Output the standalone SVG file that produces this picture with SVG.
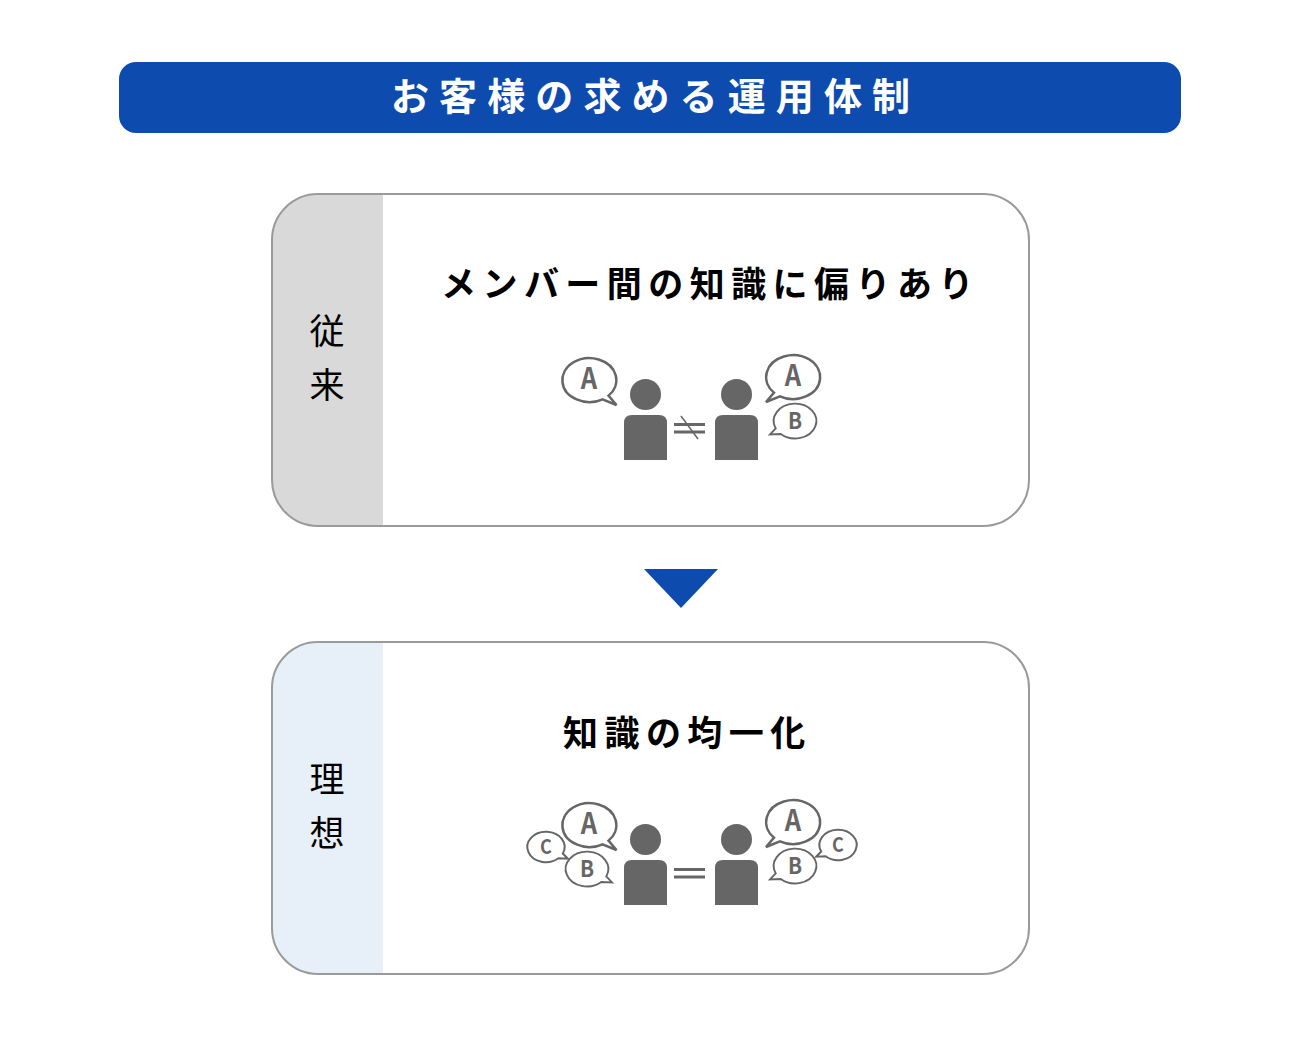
<svg xmlns="http://www.w3.org/2000/svg" width="1300" height="1037" viewBox="0 0 1300 1037">
<style>
text{font-family:"Noto Sans CJK JP","Noto Sans",sans-serif}
.hd{font-size:38px;font-weight:700;fill:#fff;letter-spacing:10.1px}
.tt{font-size:35px;font-weight:700;fill:#000;letter-spacing:6.45px}
.sd{font-size:35px;font-weight:400;fill:#000;text-anchor:middle}
.card{fill:none;stroke:#9a9a9a;stroke-width:2}
.ic{fill:#666}
.bb{fill:#fff;stroke:#666;stroke-linejoin:miter}
.bl{fill:#666;text-anchor:middle;font-weight:700}
</style>
<defs>
<path id="bp" d="M13 19.3A27 22 0 1 1 19 15.6L27 25Z"/>
<path id="bs" d="M18 16.400A27 22 0 1 1 24.400 9.400L31.600 17Z"/>
<path id="body" d="M0 45V8Q0 0 8 0H35Q43 0 43 8V45Z"/>
<g id="people" class="ic">
<circle cx="645.5" cy="394.5" r="15.5"/><use href="#body" x="624" y="415"/>
<circle cx="736.5" cy="394.5" r="15.5"/><use href="#body" x="715" y="415"/>
<rect x="674" y="423" width="31" height="3"/><rect x="674" y="430.500" width="31" height="3"/>
</g>
</defs>
<rect id="header" x="119" y="62" width="1062" height="71" rx="17" fill="#0e4bae"/>
<text class="hd" x="391" y="110">お客様の求める運用体制</text>

<g id="card1">
<path d="M383 194H318A46 46 0 0 0 272 240V480A46 46 0 0 0 318 526H383Z" fill="#d9d9d9"/>
<rect class="card" x="272" y="194" width="757" height="332" rx="46"/>
<text class="sd" x="327" y="344">従</text>
<text class="sd" x="327" y="398">来</text>
<text class="tt" x="441" y="297">メンバー間の知識に偏りあり</text>
<use href="#people"/>
<line x1="681" y1="416" x2="698" y2="439" stroke="#666" stroke-width="1.500"/>
<use href="#bp" class="bb" stroke-width="2.500" transform="translate(589.500 380)"/>
<use href="#bp" class="bb" stroke-width="2.500" transform="translate(793 377) scale(-1 1)"/>
<use href="#bs" class="bb" stroke-width="2.400" transform="translate(795 421) scale(-.79 .79)"/>
<text class="bl" transform="translate(589 389) scale(.88 1)" font-size="29">A</text>
<text class="bl" transform="translate(793 386) scale(.88 1)" font-size="29">A</text>
<text class="bl" transform="translate(795 429) scale(.9 1)" font-size="23">B</text>
</g>

<g id="arrow"><polygon points="644,569 718,569 681,608" fill="#0e4bae"/></g>

<g id="card2">
<path d="M383 642H318A46 46 0 0 0 272 688V928A46 46 0 0 0 318 974H383Z" fill="#e7eff8"/>
<rect class="card" x="272" y="642" width="757" height="332" rx="46"/>
<text class="sd" x="327" y="792">理</text>
<text class="sd" x="327" y="846">想</text>
<text class="tt" x="563" y="746">知識の均一化</text>
<use href="#people" y="445"/>
<use href="#bp" class="bb" stroke-width="2.500" transform="translate(589.500 825)"/>
<use href="#bp" class="bb" stroke-width="2.500" transform="translate(793 822) scale(-1 1)"/>
<use href="#bs" class="bb" stroke-width="2.400" transform="translate(795 866) scale(-.79 .79)"/>
<use href="#bs" class="bb" stroke-width="2.400" transform="translate(587 869) scale(.79)"/>
<use href="#bs" class="bb" stroke-width="2.900" transform="translate(546 847) scale(.69)"/>
<use href="#bs" class="bb" stroke-width="2.900" transform="translate(838 845) scale(-.69 .69)"/>
<text class="bl" transform="translate(589 834) scale(.88 1)" font-size="29">A</text>
<text class="bl" transform="translate(793 831) scale(.88 1)" font-size="29">A</text>
<text class="bl" transform="translate(795 874) scale(.9 1)" font-size="23">B</text>
<text class="bl" transform="translate(587 877) scale(.9 1)" font-size="23">B</text>
<text class="bl" transform="translate(546 854) scale(.9 1)" font-size="20">C</text>
<text class="bl" transform="translate(838 852) scale(.9 1)" font-size="20">C</text>
</g>
</svg>
